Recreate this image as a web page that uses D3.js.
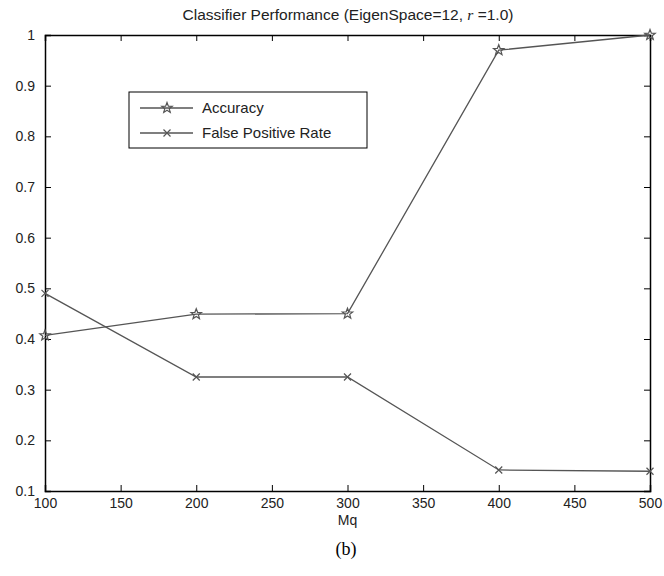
<!DOCTYPE html>
<html>
<head>
<meta charset="utf-8">
<script src="https://cdn.jsdelivr.net/npm/d3@7"></script>
<style>
  body { margin: 0; background: #fff; }
  text { font-family: Arial, "Liberation Sans", sans-serif; }
</style>
</head>
<body>
<div id="viz"></div>
<script>
const mq = [100, 200, 300, 400, 500];
const accuracy = [0.407, 0.449, 0.45, 0.97, 1.0];
const fpr = [0.49, 0.325, 0.325, 0.1415, 0.139];
const xTicks = [100, 150, 200, 250, 300, 350, 400, 450, 500];
const yTicks = [0.1, 0.2, 0.3, 0.4, 0.5, 0.6, 0.7, 0.8, 0.9, 1];
const seriesNames = ["Accuracy", "False Positive Rate"];

const width = 664, height = 576;
const margin = {left: 45, right: 14, top: 35, bottom: 85};
const lineColor = "#555";

const svg = d3.select("#viz").append("svg")
    .attr("width", width)
    .attr("height", height);

const xScale = d3.scaleLinear()
    .domain([100, 500])
    .range([margin.left, width - margin.right]);

const yScale = d3.scaleLinear()
    .domain([0.1, 1])
    .range([height - margin.bottom, margin.top]);

// matlab style: ticks inward, on all four sides
const tickLen = 6;
const fmt = d => d3.format("")(+d.toFixed(1));

const xAxis = svg.append("g")
    .attr("transform", `translate(0,${yScale(0.1)})`)
    .call(d3.axisBottom(xScale).tickValues(xTicks).tickSize(-tickLen).tickPadding(10).tickFormat(d3.format("d")));
const xTop = svg.append("g")
    .attr("transform", `translate(0,${yScale(1)})`)
    .call(d3.axisTop(xScale).tickValues(xTicks).tickSize(-tickLen).tickFormat(""));
const yAxis = svg.append("g")
    .attr("transform", `translate(${xScale(100)},0)`)
    .call(d3.axisLeft(yScale).tickValues(yTicks).tickSize(-tickLen).tickPadding(10).tickFormat(fmt));
const yRight = svg.append("g")
    .attr("transform", `translate(${xScale(500)},0)`)
    .call(d3.axisRight(yScale).tickValues(yTicks).tickSize(-tickLen).tickFormat(""));

[xAxis, xTop, yAxis, yRight].forEach(a => {
    a.selectAll(".domain").attr("stroke", "#000").attr("stroke-width", 1.5);
    a.selectAll(".tick line").attr("stroke", "#000");
    a.selectAll("text").attr("fill", "#222").style("font-size", "14px")
        .style("font-family", "Arial, 'Liberation Sans', sans-serif");
});
xAxis.selectAll("text").attr("dy", "0.5em");

// star marker path (pentagram)
function starPath(r) {
    const pts = [];
    for (let i = 0; i < 10; i++) {
        const rr = i % 2 === 0 ? r : r * 0.42;
        const a = -Math.PI / 2 + i * Math.PI / 5;
        pts.push([rr * Math.cos(a), rr * Math.sin(a)]);
    }
    return "M" + pts.map(p => p.join(",")).join("L") + "Z";
}
function crossPath(r) {
    return `M${-r},${-r}L${r},${r}M${-r},${r}L${r},${-r}`;
}

const line = d3.line()
    .x(d => xScale(d[0]))
    .y(d => yScale(d[1]));

const series = [
    {name: seriesNames[0], values: mq.map((m, i) => [m, accuracy[i]]), marker: starPath(5.5)},
    {name: seriesNames[1], values: mq.map((m, i) => [m, fpr[i]]), marker: crossPath(3.5)}
];

const gSeries = svg.selectAll(".series")
    .data(series)
    .join("g")
        .attr("class", "series");

gSeries.append("path")
    .attr("d", d => line(d.values))
    .attr("fill", "none")
    .attr("stroke", lineColor)
    .attr("stroke-width", 1.3);

gSeries.selectAll(".marker")
    .data(d => d.values.map(v => ({v, marker: d.marker})))
    .join("path")
        .attr("class", "marker")
        .attr("transform", d => `translate(${xScale(d.v[0])},${yScale(d.v[1])})`)
        .attr("d", d => d.marker)
        .attr("fill", "none")
        .attr("stroke", lineColor)
        .attr("stroke-width", 1.2);

// legend
const legend = svg.append("g").attr("transform", "translate(129,92)");
legend.append("rect")
    .attr("width", 238).attr("height", 56)
    .attr("fill", "#fff").attr("stroke", "#000").attr("stroke-width", 1);

const legendRows = legend.selectAll(".legend-row")
    .data(series)
    .join("g")
        .attr("class", "legend-row")
        .attr("transform", (d, i) => `translate(0,${16 + i * 25})`);

legendRows.append("line")
    .attr("x1", 11).attr("x2", 64)
    .attr("stroke", lineColor).attr("stroke-width", 1.3);
legendRows.append("path")
    .attr("transform", "translate(38,0)")
    .attr("d", d => d.marker)
    .attr("fill", "none").attr("stroke", lineColor).attr("stroke-width", 1.2);
legendRows.append("text")
    .attr("x", 73).attr("y", 5)
    .attr("fill", "#222")
    .style("font-size", "15px")
    .text(d => d.name);

// title
const title = svg.append("text")
    .attr("x", 348).attr("y", 20)
    .attr("text-anchor", "middle")
    .attr("fill", "#222")
    .style("font-size", "15.5px");
title.append("tspan").text("Classifier Performance (EigenSpace=12,  ");
title.append("tspan").style("font-style", "italic").style("font-family", "'Liberation Serif', serif").text("r");
title.append("tspan").text(" =1.0)");

// x label
svg.append("text")
    .attr("x", xScale(300)).attr("y", 525)
    .attr("text-anchor", "middle")
    .attr("fill", "#222")
    .style("font-size", "14px")
    .text("Mq");

svg.append("text")
    .attr("x", 346).attr("y", 555)
    .attr("text-anchor", "middle")
    .attr("fill", "#000")
    .style("font-family", "'Liberation Serif', 'Times New Roman', serif")
    .style("font-size", "18px")
    .text("(b)");
</script>
</body>
</html>
